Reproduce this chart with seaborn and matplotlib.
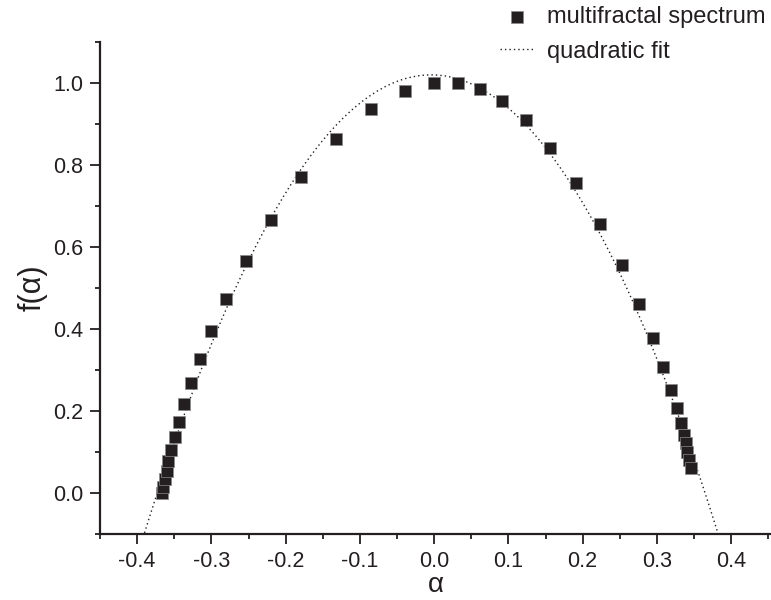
import numpy as np
import pandas as pd
import seaborn as sns
import matplotlib.pyplot as plt
from matplotlib.ticker import MultipleLocator, FormatStrFormatter

# multifractal spectrum points
alpha = [-0.366, -0.365, -0.362, -0.360, -0.358, -0.354, -0.349, -0.343, -0.337,
         -0.327, -0.315, -0.300, -0.280, -0.253, -0.220, -0.179, -0.132, -0.085,
         -0.039, 0.000, 0.032, 0.062, 0.092, 0.124, 0.156, 0.191, 0.224, 0.253,
         0.276, 0.295, 0.308, 0.319, 0.327, 0.333, 0.337, 0.339, 0.341, 0.343, 0.346]
f_alpha = [0.000, 0.015, 0.034, 0.054, 0.078, 0.105, 0.136, 0.173, 0.217,
           0.268, 0.326, 0.394, 0.474, 0.567, 0.667, 0.771, 0.864, 0.937,
           0.981, 1.000, 1.000, 0.985, 0.956, 0.910, 0.842, 0.757, 0.657, 0.555,
           0.460, 0.377, 0.307, 0.251, 0.207, 0.170, 0.141, 0.122, 0.100, 0.080, 0.061]

df = pd.DataFrame({"alpha": alpha, "f": f_alpha})

sns.set_style("ticks")
plt.rcParams['font.family'] = ['Liberation Sans', 'DejaVu Sans']
plt.rcParams['axes.unicode_minus'] = False

fig = plt.figure(figsize=(7.71, 6.0), dpi=100)
ax = fig.add_axes([100/771, 66/600, 671/771, 492/600])
ax.set_xlim(-0.45, 0.4537)
ax.set_ylim(-0.1, 1.1)

# quadratic fit over the full x range
sns.regplot(data=df, x="alpha", y="f", order=2, ci=None, scatter=False,
            truncate=False, ax=ax, label="quadratic fit",
            line_kws=dict(color="#231f20", lw=1.0, ls=(0, (1, 2.2))))
sns.scatterplot(data=df, x="alpha", y="f", marker="s", s=72, color="#231f20",
                edgecolor="#8a8a8a", linewidth=0.5, ax=ax,
                label="multifractal spectrum", zorder=3)

ax.set_xlim(-0.45, 0.4537)
ax.set_ylim(-0.1, 1.1)
ax.xaxis.set_major_locator(MultipleLocator(0.1))
ax.xaxis.set_minor_locator(MultipleLocator(0.05))
ax.yaxis.set_major_locator(MultipleLocator(0.2))
ax.yaxis.set_minor_locator(MultipleLocator(0.1))
ax.xaxis.set_major_formatter(FormatStrFormatter('%.1f'))
ax.yaxis.set_major_formatter(FormatStrFormatter('%.1f'))
ax.tick_params(which='major', length=7, width=1.3, labelsize=15.5, color='#231f20',
               labelcolor='#231f20', pad=5)
ax.tick_params(which='minor', length=3.6, width=1.3, color='#231f20')
for side in ['top', 'right']:
    ax.spines[side].set_visible(False)
for side in ['left', 'bottom']:
    ax.spines[side].set_linewidth(1.6)
    ax.spines[side].set_color('#231f20')

ax.set_xlabel("α", fontsize=20, color='#231f20', labelpad=0)
ax.set_ylabel("f(α)", fontsize=22, color='#231f20', labelpad=4)

handles, labels = ax.get_legend_handles_labels()
order = [labels.index("multifractal spectrum"), labels.index("quadratic fit")]
ax.legend([handles[i] for i in order], [labels[i] for i in order],
          loc='upper right', bbox_to_anchor=(1.011, 1.014), bbox_transform=fig.transFigure,
          frameon=False, fontsize=17, handlelength=1.5, handletextpad=0.5,
          labelspacing=0.55, borderpad=0.1, labelcolor='#231f20')

fig.savefig("out.png", dpi=100)
